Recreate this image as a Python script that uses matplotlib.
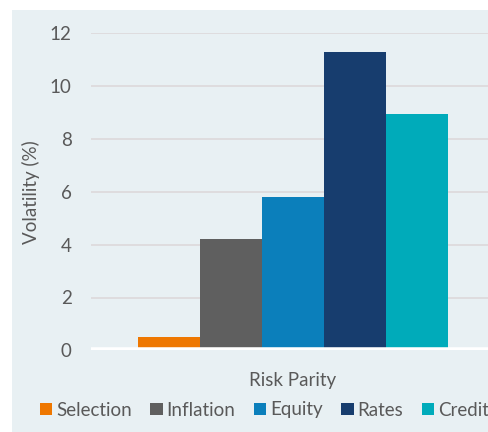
import matplotlib
matplotlib.use("Agg")
import matplotlib.pyplot as plt
import numpy as np
from matplotlib.patches import Rectangle

plt.rcParams['font.family'] = ['Lato', 'DejaVu Sans']

category = "Risk Parity"
factors = ["Selection", "Inflation", "Equity", "Rates", "Credit"]
volatility = [0.5, 4.2, 5.8, 11.3, 8.95]
colors = ["#EE7700", "#5F5F5F", "#0B7FBB", "#173D6E", "#00ABBA"]

text_color = "#595959"
panel_color = "#E8F0F3"

W, H = 489, 432
fig = plt.figure(figsize=(W / 100, H / 100), dpi=100, facecolor="white")

# light panel behind the chart, leaving a thin white margin top and left
fig.patches.append(Rectangle((12 / W, 0), 1, (H - 10) / H, transform=fig.transFigure,
                             facecolor=panel_color, edgecolor="none", zorder=-10))

# plot area runs slightly past the right edge of the image
ax = fig.add_axes([91 / W, (H - 350.4) / H, 404 / W, (350.4 - 33) / H])
ax.set_facecolor("none")

bar_w = 0.1535
n = len(factors)
offsets = (np.arange(n) - (n - 1) / 2) * bar_w
for off, name, val, c in zip(offsets, factors, volatility, colors):
    ax.bar(off, val, width=bar_w, color=c, label=name, zorder=2)

ax.set_xlim(-0.5, 0.5)
ax.set_ylim(0, 12)
ax.set_yticks(np.arange(0, 13, 2))
ax.grid(axis="y", color="#DEDCDE", linewidth=1.4, zorder=1)
ax.set_axisbelow(True)
ax.axhline(0, color="white", linewidth=4, zorder=3)

for s in ax.spines.values():
    s.set_visible(False)

ax.set_xticks([0])
ax.set_xticklabels([category])
ax.tick_params(axis="x", length=0, pad=15.5, labelsize=13.5, labelcolor=text_color)
ax.tick_params(axis="y", length=0, pad=14, labelsize=13.5, labelcolor=text_color)
ax.set_ylabel("Volatility (%)", fontsize=13.5, color=text_color, labelpad=7)

fig.legend(loc="center left", bbox_to_anchor=(40 / W, (H - 410) / H), ncol=n,
           frameon=False, fontsize=13.5, labelcolor=text_color,
           handlelength=0.65, handleheight=0.65, handletextpad=0.22,
           columnspacing=0.98, borderaxespad=0, borderpad=0)

fig.savefig("out.png", dpi=100, facecolor="white")
